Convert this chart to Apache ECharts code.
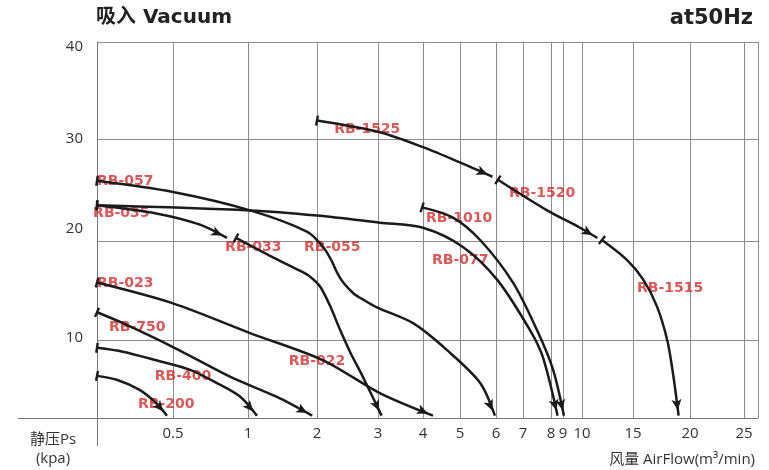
<!DOCTYPE html>
<html><head><meta charset="utf-8">
<script src="https://cdn.jsdelivr.net/npm/echarts@6/dist/echarts.min.js"></script>
<style>html,body{margin:0;padding:0;background:#fff}#c{width:769px;height:470px}</style>
</head><body><div id="c"></div>
<script>
// ---- printed (non-uniform) axis scales: value -> axis unit breakpoints ----
const xTickValues = [0, 0.5, 1, 2, 3, 4, 5, 6, 7, 8, 9, 10, 15, 20, 25, 26.25];
const xTickLabels = ['', '0.5', '1', '2', '3', '4', '5', '6', '7', '8', '9', '10', '15', '20', '25', ''];
const xTickUnits  = [0, 76, 151, 220, 281, 326, 363, 399, 426, 454, 466, 485, 536, 593, 647, 661];
const yTickValues = [0, 10, 20, 30, 40];
const yTickLabels = ['10', '20', '30', '40'];
const yTickUnits  = [0, 78, 177, 279, 376];
const yLabelUnits = [80, 189, 279, 371];   // where the printed tick numbers sit

// ---- curves: [airflow m3/min, static pressure kpa] ----
const rb200  = [[0,5.4],[0.13,4.9],[0.28,3.6],[0.39,1.9],[0.46,0.3]];
const rb400  = [[0,9.0],[0.17,8.5],[0.39,7.4],[0.61,6.2],[0.79,4.5],[0.95,2.7],[1.13,0.3]];
const rb750  = [[0,12.8],[0.17,11.7],[0.5,9.1],[0.88,5.3],[1.42,2.7],[1.93,0.3]];
const rb023  = [[0,15.8],[0.5,13.7],[1.03,10.7],[2.1,7.4],[3.04,3.2],[4.27,0.3]];
const rb035  = [[0,23.5],[0.39,22.7],[0.68,21.6],[0.86,20.3]];
const rb033  = [[0.92,20.3],[1.32,18.5],[1.75,17.0],[1.9,16.4],[2.05,15.4],[2.21,13.5],[2.38,11.0],[2.54,8.5],[2.75,5.3],[3.08,0.3]];
const rb057  = [[0,25.9],[0.5,24.8],[1.03,23.0],[1.86,20.9],[2.1,19.4],[2.24,18.0],[2.33,16.8],[2.43,15.8],[2.6,14.7],[2.75,14.1],[2.98,13.3],[3.78,11.7],[4.65,8.7],[5.56,4.5],[5.97,0.3]];
const rb077  = [[0,23.5],[1.03,23.0],[2,22.5],[3.04,21.8],[4,21.3],[5.08,19.4],[6.04,16.1],[7.25,11.0],[7.71,7.8],[8.55,0.3]];
const rb1010 = [[3.98,23.3],[4.81,22.3],[5.56,20.1],[6.63,15.8],[7.5,11.0],[8.17,6.2],[9.05,0.3]];
const rb1525 = [[2,31.9],[3.04,30.7],[4,29.2],[5,27.7],[5.9,26.3]];
const rb1520 = [[6.07,26.0],[7.86,23.0],[9.9,21.3],[11.5,20.3]];
const rb1515 = [[11.96,20.1],[14.4,18.1],[15.9,16.1],[17.1,13.4],[18.0,10.0],[18.5,5.8],[19.0,0.3]];

const curves = [
  {name:'RB-200', data:rb200}, {name:'RB-400', data:rb400}, {name:'RB-750', data:rb750},
  {name:'RB-023', data:rb023}, {name:'RB-035', data:rb035}, {name:'RB-033', data:rb033},
  {name:'RB-057', data:rb057}, {name:'RB-077', data:rb077}, {name:'RB-1010', data:rb1010},
  {name:'RB-1525', data:rb1525}, {name:'RB-1520', data:rb1520}, {name:'RB-1515', data:rb1515}
];
// label anchors (left edge, vertical middle) in data units
const labelNames = ['RB-057','RB-035','RB-033','RB-055','RB-023','RB-750','RB-400','RB-200','RB-022','RB-077','RB-1010','RB-1525','RB-1520','RB-1515'];
const labelAt = [[0,25.8],[-0.026,22.7],[0.847,19.4],[1.81,19.4],[0,15.7],[0.079,11.3],[0.38,5.4],[0.27,1.7],[1.59,7.3],[4.24,18.0],[4.08,22.2],[2.28,31.0],[6.48,24.7],[15.35,15.25]];

function piece(v, from, to){
  for (let i = 0; i < from.length - 1; i++){
    if (v <= from[i+1] || i === from.length - 2){
      const t = (v - from[i]) / (from[i+1] - from[i]);
      return to[i] + t * (to[i+1] - to[i]);
    }
  }
}
function mapPt(p){ return [piece(p[0], xTickValues, xTickUnits), piece(p[1], yTickValues, yTickUnits)]; }
function labelFor(v, units, labels){
  let best = 0;
  for (let i = 0; i < units.length; i++) if (Math.abs(units[i]-v) < Math.abs(units[best]-v)) best = i;
  return labels[best];
}

const chart = echarts.init(document.getElementById('c'));
const LINE = '#1b1b1b';
const latin = 'DejaVu Sans, Noto Sans CJK SC, sans-serif';
const plain = 'Open Sans, Noto Sans CJK SC, sans-serif';

function buildSeries(withSymbols){
  const s = curves.map(c => {
    const pts = c.data.map(mapPt);
    const data = pts.map(p => ({value: p}));
    if (withSymbols){
      const px = pts.map(p => chart.convertToPixel({gridIndex:0}, p));
      const n = px.length;
      const a0 = Math.atan2(-(px[1][1]-px[0][1]), px[1][0]-px[0][0]);
      const a1 = Math.atan2(-(px[n-1][1]-px[n-2][1]), px[n-1][0]-px[n-2][0]);
      const L = 11;
      data[0] = {value: pts[0], symbol:'rect', symbolSize:[2.4, 10], symbolRotate: a0*180/Math.PI};
      data[n-1] = {value: pts[n-1], symbol:'arrow', symbolSize:[7.5, L], symbolRotate: a1*180/Math.PI - 90,
                   symbolOffset:[-Math.cos(a1)*L/2, Math.sin(a1)*L/2]};
    }
    return {type:'line', name:c.name, smooth:0.3, data, symbol:'none', showSymbol:true, clip:false,
            lineStyle:{color:LINE, width:2.5}, itemStyle:{color:LINE}, silent:true, z:3};
  });
  s.push({type:'scatter', name:'labels', clip:false, silent:true, z:2,
    symbol:'circle', symbolSize:0.1, itemStyle:{color:'rgba(0,0,0,0)'},
    data: labelNames.map((nm, i) => ({name:nm, value: mapPt(labelAt[i])})),
    label:{show:true, position:'right', distance:0, formatter:'{b}', color:'#d22e2e',
           fontWeight:'bold', fontSize:14, fontFamily:latin}});
  return s;
}

const option = {
  animation:false,
  backgroundColor:'#fff',
  title:[
    {text:'吸入 Vacuum', left:91, top:3, textStyle:{fontSize:20, fontWeight:'bold', color:'#222', fontFamily:latin}},
    {text:'at50Hz', right:11, top:3, textStyle:{fontSize:21, fontWeight:'bold', color:'#222', fontFamily:latin}}
  ],
  grid:{left:97, right:11, top:42, bottom:52},
  xAxis:{type:'value', min:0, max:661,
    axisLine:{show:true, lineStyle:{color:'#777', width:1}},
    axisTick:{show:false, customValues: xTickUnits.slice(1)},
    axisLabel:{customValues: xTickUnits.slice(1, -1), formatter: v => labelFor(v, xTickUnits, xTickLabels),
               color:'#333', fontSize:15, margin:8, fontFamily:plain},
    splitLine:{show:true, lineStyle:{color:'#8c8c8c', width:1}}},
  yAxis:{type:'value', min:0, max:376,
    axisLine:{show:true, lineStyle:{color:'#777', width:1}},
    axisTick:{show:false, customValues: yTickUnits.slice(1)},
    axisLabel:{customValues: yLabelUnits, formatter: v => labelFor(v, yLabelUnits, yTickLabels),
               color:'#333', fontSize:15, margin:14, fontFamily:plain},
    splitLine:{show:true, lineStyle:{color:'#8c8c8c', width:1}}},
  graphic:[
    {type:'line', shape:{x1:18, y1:418.5, x2:97, y2:418.5}, style:{stroke:'#777', lineWidth:1}},
    {type:'line', shape:{x1:97.5, y1:418, x2:97.5, y2:446}, style:{stroke:'#777', lineWidth:1}},
    {type:'text', x:53, y:440, style:{text:'静压Ps', fontSize:15, fill:'#333', align:'center', verticalAlign:'middle', fontFamily:plain}},
    {type:'text', x:53, y:459, style:{text:'(kpa)', fontSize:15, fill:'#333', align:'center', verticalAlign:'middle', fontFamily:plain}},
    {type:'text', x:755, y:460, style:{text:'风量 AirFlow(m³/min)', fontSize:15, fill:'#333', align:'right', verticalAlign:'middle', fontFamily:plain}}
  ],
  series: buildSeries(false)
};
chart.setOption(option);
chart.setOption({series: buildSeries(true)});
</script></body></html>
